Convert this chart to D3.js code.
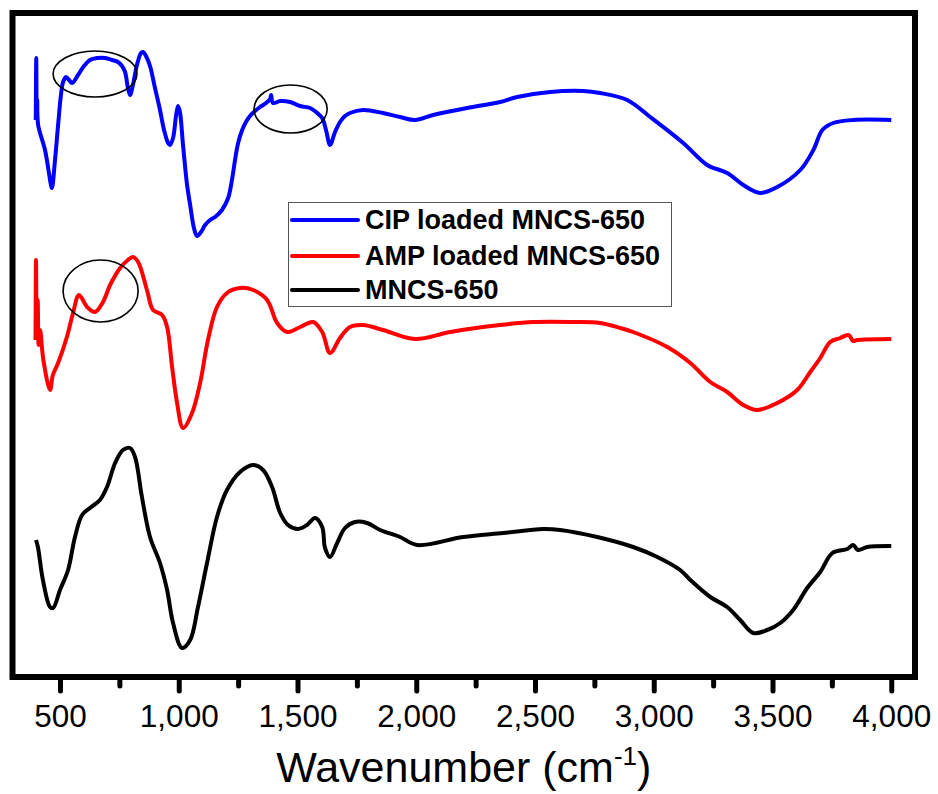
<!DOCTYPE html>
<html>
<head>
<meta charset="utf-8">
<script src="https://d3js.org/d3.v7.min.js"></script>
<style>
  body { margin: 0; background: #fff; }
  text { font-family: 'Liberation Sans', Arial, sans-serif; }
</style>
</head>
<body>
<div id="container"></div>
<script>
// Plot constants
var width = 938,
height = 794;

// FTIR spectra, [wavenumber (cm-1), transmittance (a.u., offset)]
var cipLoaded = [
[398, 557], [400, 619], [402, 559], [404, 577], [408, 552], [437, 527], [462, 492], [466, 489],
[479, 517], [492, 552], [504, 582], [513, 595], [525, 600], [538, 597], [551, 594], [576, 602],
[601, 611], [626, 617], [656, 619], [690, 619], [719, 617], [744, 615], [761, 611], [774, 605],
[786, 589], [795, 582], [807, 592], [824, 612], [841, 624], [850, 625], [862, 621], [879, 611],
[900, 589], [921, 567], [938, 547], [955, 534], [963, 532], [976, 539], [989, 562], [997, 571],
[1005, 565], [1018, 532], [1035, 492], [1048, 472], [1064, 449], [1077, 441], [1094, 445],
[1111, 452], [1132, 457], [1153, 460], [1182, 467], [1208, 479], [1224, 497], [1237, 517],
[1250, 534], [1267, 547], [1283, 555], [1300, 561], [1321, 566], [1342, 570], [1368, 574],
[1385, 578], [1389, 582], [1397, 574], [1427, 576], [1469, 575], [1511, 571], [1553, 569],
[1578, 565], [1604, 559], [1620, 547], [1637, 532], [1658, 545], [1679, 555], [1700, 561],
[1721, 564], [1776, 567], [1860, 564], [1932, 560], [1995, 557], [2071, 562], [2214, 569],
[2353, 575], [2425, 580], [2564, 585], [2703, 586], [2774, 584], [2888, 577], [2985, 560],
[3124, 534], [3225, 512], [3309, 504], [3377, 492], [3448, 484], [3520, 490], [3617, 507],
[3672, 527], [3710, 547], [3756, 554], [3840, 557], [4000, 557]];

var ampLoaded = [
[397, 337], [399, 417], [402, 347], [406, 377], [410, 332], [416, 347], [430, 317], [458, 287],
[470, 302], [492, 314], [529, 340], [555, 364], [580, 382], [614, 370], [647, 365], [681, 375],
[711, 392], [753, 409], [786, 417], [807, 420], [829, 415], [866, 387], [892, 367], [930, 362],
[951, 350], [972, 310], [993, 274], [1018, 249], [1056, 264], [1090, 294], [1123, 337],
[1161, 370], [1203, 384], [1258, 389], [1313, 387], [1372, 377], [1414, 354], [1456, 345],
[1511, 350], [1566, 355], [1604, 345], [1637, 324], [1679, 339], [1721, 350], [1776, 352],
[1860, 347], [1995, 338], [2143, 345], [2353, 352], [2492, 355], [2661, 355], [2774, 354],
[2859, 349], [2913, 345], [3057, 330], [3154, 314], [3238, 295], [3309, 285], [3377, 272],
[3436, 267], [3520, 274], [3604, 287], [3659, 305], [3701, 319], [3743, 335], [3785, 339],
[3820, 342], [3840, 336], [3857, 337], [4000, 338]];

var mncs650 = [
[399, 137], [407, 130], [428, 97], [458, 70], [471, 69], [500, 87], [534, 107], [563, 140],
[593, 162], [626, 169], [668, 177], [698, 190], [732, 214], [765, 227], [795, 229], [816, 220],
[845, 180], [879, 140], [921, 114], [951, 87], [976, 54], [1014, 29], [1048, 37], [1081, 70],
[1119, 114], [1161, 160], [1203, 187], [1258, 205], [1313, 212], [1355, 207], [1393, 190],
[1427, 164], [1460, 152], [1502, 148], [1540, 152], [1574, 159], [1604, 150], [1616, 129],
[1637, 120], [1667, 134], [1700, 149], [1742, 155], [1793, 154], [1848, 147], [1932, 140],
[2004, 132], [2197, 140], [2366, 144], [2534, 148], [2606, 147], [2762, 140], [2913, 130],
[3015, 120], [3111, 107], [3154, 97], [3238, 80], [3309, 70], [3364, 57], [3419, 44],
[3478, 47], [3533, 54], [3587, 67], [3646, 89], [3701, 105], [3752, 124], [3815, 128],
[3840, 132], [3860, 127], [3899, 130], [4000, 131]];

var seriesNames = ['CIP loaded MNCS-650', 'AMP loaded MNCS-650', 'MNCS-650'];
var seriesColours = ['#0000ff', '#ff0000', '#000000'];
var majorTicks = [500, 1000, 1500, 2000, 2500, 3000, 3500, 4000];
var minorTicks = [750, 1250, 1750, 2250, 2750, 3250, 3750];

// circled regions: [from cm-1, to cm-1, centre value, half height]
var circles = [[471, 824, 603, 23], [1317, 1625, 568, 24], [513, 829, 386, 31]];

var svg = d3.select('#container').append('svg').attr('width', width).attr('height', height);

var x = d3.scaleLinear().domain([300, 4100]).range([12.5, 915]);
var y = d3.scaleLinear().domain([0, 664]).range([677, 13]);

var line = d3.line().
x(d => x(d[0])).
y(d => y(d[1])).
curve(d3.curveCatmullRom.alpha(0.5));

// spectra
[cipLoaded, ampLoaded, mncs650].forEach(function (s, i) {
  svg.append('path').
  datum(s).
  attr('fill', 'none').
  attr('stroke', seriesColours[i]).
  attr('stroke-width', 4).
  attr('stroke-linejoin', 'round').
  attr('d', line);
});

// annotation ellipses
svg.append('g').selectAll('ellipse').data(circles).enter().append('ellipse').
attr('cx', d => (x(d[0]) + x(d[1])) / 2).
attr('cy', d => y(d[2])).
attr('rx', d => (x(d[1]) - x(d[0])) / 2).
attr('ry', d => d[3]).
attr('fill', 'none').
attr('stroke', '#000').
attr('stroke-width', 1.6);

// frame
svg.append('rect').
attr('x', x(300)).
attr('y', y(664)).
attr('width', x(4100) - x(300)).
attr('height', y(0) - y(664)).
attr('fill', 'none').
attr('stroke', '#000').
attr('stroke-width', 6);

// bottom axis, major + minor ticks
var axisMajor = d3.axisBottom(x).tickValues(majorTicks).tickSize(14).tickPadding(14).tickFormat(d3.format(','));
var gx = svg.append('g').attr('transform', 'translate(0,' + y(0) + ')').call(axisMajor);
gx.select('.domain').remove();
gx.selectAll('.tick line').attr('stroke', '#000').attr('stroke-width', 5).attr('stroke-linecap', 'round');
gx.selectAll('.tick text').attr('font-size', 31.5).attr('fill', '#000').
attr('font-family', "'Liberation Sans', Arial, sans-serif");

var axisMinor = d3.axisBottom(x).tickValues(minorTicks).tickSize(9).tickFormat('');
var gm = svg.append('g').attr('transform', 'translate(0,' + y(0) + ')').call(axisMinor);
gm.select('.domain').remove();
gm.selectAll('.tick line').attr('stroke', '#000').attr('stroke-width', 5).attr('stroke-linecap', 'round');

// axis title
var title = svg.append('text').
attr('x', (x(300) + x(4100)) / 2).
attr('y', 782).
attr('text-anchor', 'middle').
attr('font-size', 43);
title.append('tspan').text('Wavenumber (cm');
title.append('tspan').attr('dy', -17).attr('font-size', 26).text('-1');
title.append('tspan').attr('dy', 17).text(')');

// Legend
var legend = svg.append('g').attr('id', 'legend');
legend.append('rect').
attr('x', 288.5).
attr('y', 202.5).
attr('width', 383).
attr('height', 104).
attr('fill', '#fff').
attr('stroke', '#555').
attr('stroke-width', 1);

var rowY = [220, 256, 290];
legend.selectAll('g').data(seriesNames).enter().append('g').each(function (d, i) {
  var g = d3.select(this);
  g.append('line').
  attr('x1', 292).
  attr('x2', 358).
  attr('y1', rowY[i]).
  attr('y2', rowY[i]).
  attr('stroke', seriesColours[i]).
  attr('stroke-width', 4).
  attr('stroke-linecap', 'round');
  g.append('text').
  attr('x', 365).
  attr('y', rowY[i] + 9).
  attr('font-size', 27).
  attr('font-weight', 'bold').
  text(d);
});
</script>
</body>
</html>
